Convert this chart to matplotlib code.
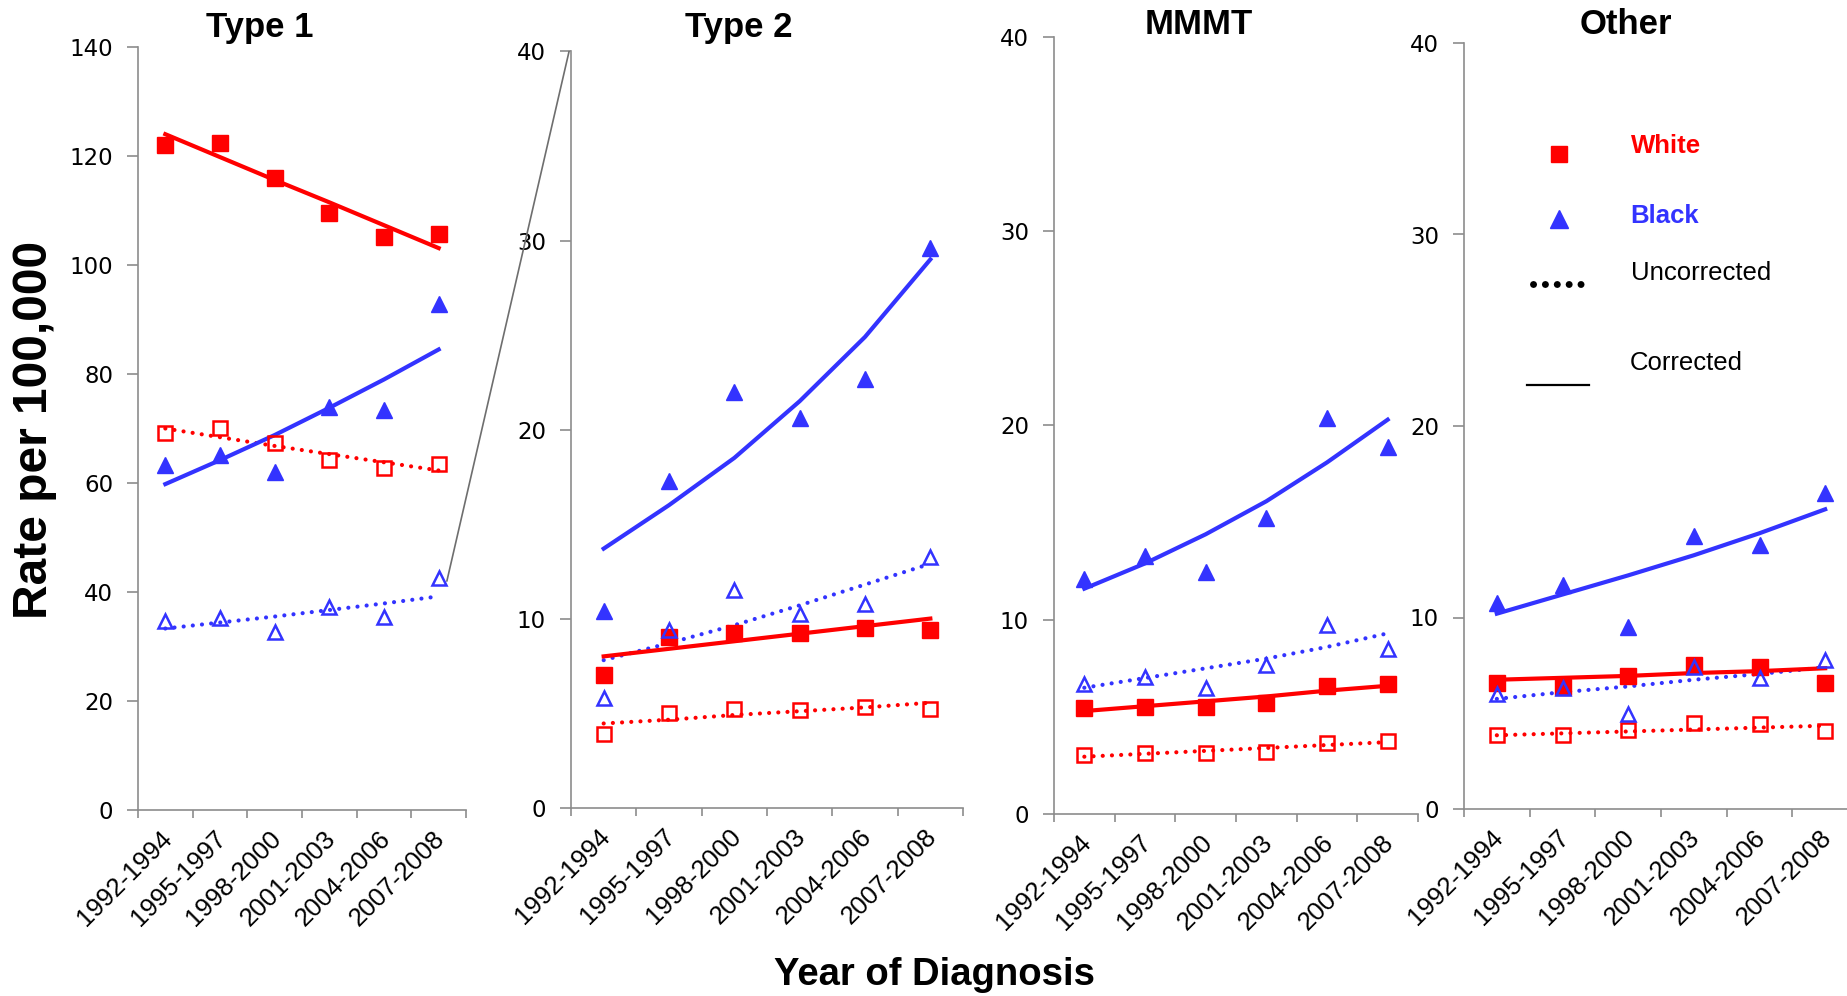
import numpy as np
import matplotlib.pyplot as plt
from matplotlib.lines import Line2D
from matplotlib.patches import ConnectionPatch
from matplotlib.transforms import ScaledTranslation

plt.rcParams['font.family'] = ['Liberation Sans', 'DejaVu Sans']

periods = ['1992-1994', '1995-1997', '1998-2000', '2001-2003', '2004-2006', '2007-2008']
titles = ['Type 1', 'Type 2', 'MMMT', 'Other']

# one row per panel: Type 1, Type 2, MMMT, Other
white_corr = [[122.1, 122.3, 116.0, 109.5, 105.1, 105.6],
              [7.0, 9.03, 9.26, 9.23, 9.52, 9.38],
              [5.44, 5.5, 5.5, 5.69, 6.61, 6.67],
              [6.6, 6.37, 6.96, 7.5, 7.39, 6.6]]
white_corr_fit = [[124.0, 119.8, 115.6, 111.5, 107.3, 103.1],
                  [8.0, 8.4, 8.8, 9.2, 9.6, 10.0],
                  [5.3, 5.55, 5.8, 6.05, 6.35, 6.6],
                  [6.75, 6.85, 6.95, 7.1, 7.2, 7.35]]
black_corr = [[63.3, 65.1, 62.0, 73.9, 73.4, 92.8],
              [10.4, 17.26, 22.0, 20.6, 22.7, 29.6],
              [12.1, 13.3, 12.47, 15.26, 20.4, 18.9],
              [10.76, 11.7, 9.48, 14.24, 13.76, 16.5]]
black_corr_fit = [[59.8, 64.2, 68.8, 73.8, 79.0, 84.5],
                  [13.7, 16.0, 18.5, 21.5, 24.9, 29.0],
                  [11.6, 12.9, 14.4, 16.1, 18.1, 20.3],
                  [10.2, 11.2, 12.2, 13.25, 14.4, 15.65]]
white_unc = [[69.1, 70.1, 67.4, 64.3, 62.8, 63.5],
             [3.87, 5.02, 5.22, 5.16, 5.3, 5.22],
             [3.04, 3.12, 3.12, 3.18, 3.68, 3.74],
             [3.85, 3.85, 4.13, 4.47, 4.42, 4.05]]
white_unc_fit = [[70.0, 68.4, 66.8, 65.3, 63.8, 62.3],
                 [4.45, 4.65, 4.9, 5.1, 5.3, 5.55],
                 [2.95, 3.1, 3.25, 3.4, 3.55, 3.7],
                 [3.85, 3.95, 4.05, 4.15, 4.25, 4.35]]
black_unc = [[34.6, 35.3, 32.6, 37.3, 35.5, 42.6],
             [5.8, 9.4, 11.5, 10.24, 10.75, 13.25],
             [6.67, 7.03, 6.47, 7.67, 9.73, 8.48],
             [6.03, 6.31, 4.98, 7.39, 6.82, 7.78]]
black_unc_fit = [[33.3, 34.4, 35.5, 36.7, 37.9, 39.2],
                 [7.8, 8.7, 9.65, 10.7, 11.8, 12.9],
                 [6.5, 7.0, 7.5, 8.0, 8.6, 9.3],
                 [5.75, 6.1, 6.4, 6.75, 7.05, 7.4]]
ymax = [140, 40, 40, 40]
ystep = [20, 10, 10, 10]

RED = '#ff0000'
BLUE = '#3333ff'
GRAY = '#8c8c8c'
DOT = (0, (0.01, 2.2))

W, H = 1847, 996
fig = plt.figure(figsize=(W / 100, H / 100), dpi=100)

# panel boxes in pixels: left, right, top, bottom
px = [(138, 466, 47, 810), (571, 963, 51.5, 807.6),
      (1054, 1418, 37, 814), (1464, 1858, 43, 809)]
title_px = [(260, 27), (739, 27), (1199, 25), (1626, 24)]

axes = []
x = np.arange(len(periods))
for i in range(4):
    l, r, t, b = px[i]
    ax = fig.add_axes([l / W, 1 - b / H, (r - l) / W, (b - t) / H])
    axes.append(ax)

    ax.plot(x, white_unc_fit[i], color=RED, lw=3, ls=DOT, dash_capstyle='round')
    ax.plot(x, black_unc_fit[i], color=BLUE, lw=3, ls=DOT, dash_capstyle='round')
    ax.plot(x, white_corr_fit[i], color=RED, lw=3)
    ax.plot(x, black_corr_fit[i], color=BLUE, lw=3)
    ax.plot(x, white_corr[i], 's', color=RED, ms=11, ls='none')
    ax.plot(x, black_corr[i], '^', color=BLUE, ms=11, ls='none')
    ax.plot(x, white_unc[i], 's', mfc='none', mec=RED, ms=10, mew=1.8, ls='none')
    ax.plot(x, black_unc[i], '^', mfc='none', mec=BLUE, ms=10, mew=1.8, ls='none')

    ax.set_xlim(-0.5, 5.5)
    ax.set_ylim(0, ymax[i])
    ax.set_yticks(np.arange(0, ymax[i] + 1, ystep[i]))
    for s in ['top', 'right']:
        ax.spines[s].set_visible(False)
    for s in ['left', 'bottom']:
        ax.spines[s].set_color(GRAY)
        ax.spines[s].set_linewidth(1.2)

    ax.set_xticks(x)
    ax.set_xticklabels(periods, rotation=45, ha='right', va='top',
                       rotation_mode='anchor', fontsize=18.5)
    ax.tick_params(axis='x', which='major', length=0, pad=12)
    ax.set_xticks(np.arange(-0.5, 6, 1), minor=True)
    ax.tick_params(axis='x', which='minor', length=6, width=1.2, color=GRAY)
    ax.tick_params(axis='y', length=8, width=1.2, color=GRAY, pad=10, labelsize=16.5)
    for lab in ax.get_yticklabels():
        lab.set_fontfamily('DejaVu Sans')
    off = ScaledTranslation(-0.06, 0, fig.dpi_scale_trans)
    for lab in ax.get_xticklabels():
        lab.set_transform(lab.get_transform() + off)

    fig.text(title_px[i][0] / W, 1 - title_px[i][1] / H, titles[i],
             ha='center', va='center', fontsize=25, fontweight='bold')

# zoom connector between Type 1 and Type 2
con = ConnectionPatch(xyA=(5.15, 42), coordsA=axes[0].transData,
                      xyB=(-0.53, 40), coordsB=axes[1].transData,
                      color='#6e6e6e', lw=1.2)
fig.add_artist(con)

# legend: race markers and the uncorrected dots, then the corrected line on its own
handles1 = [Line2D([], [], marker='s', color=RED, ms=11, ls='none'),
            Line2D([], [], marker='^', color=BLUE, ms=13, ls='none'),
            Line2D([], [], color='black', lw=5, ls=(0, (0.01, 1.7)), dash_capstyle='round')]
labels1 = ['White', 'Black', 'Uncorrected']
leg1 = axes[3].legend(handles1, labels1, loc='upper left', bbox_to_anchor=(0.175, 0.868),
                      frameon=False, fontsize=18.5, handlelength=2.0, handletextpad=1.8,
                      labelspacing=1.6, borderpad=0, borderaxespad=0, numpoints=1)
for txt, c, w, dy in zip(leg1.get_texts(), [RED, BLUE, 'black'],
                         ['bold', 'bold', 'normal'], [10, 5, 13]):
    txt.set_color(c)
    txt.set_fontweight(w)
    txt.set_position((0, dy))
axes[3].add_artist(leg1)

leg2 = axes[3].legend([Line2D([], [], color='black', lw=1.6)], ['Corrected'],
                      loc='upper left', bbox_to_anchor=(0.16, 0.567),
                      frameon=False, fontsize=18.5, handlelength=2.4, handletextpad=1.6,
                      borderpad=0, borderaxespad=0)
leg2.get_texts()[0].set_position((0, 24))

fig.text(934 / W, 1 - 975 / H, 'Year of Diagnosis', ha='center', va='center',
         fontsize=27.5, fontweight='bold')
fig.text(35 / W, 1 - 430 / H, 'Rate per 100,000', rotation=90, ha='center', va='center',
         fontsize=34.5, fontweight='bold')

fig.savefig('out.png', dpi=100)
